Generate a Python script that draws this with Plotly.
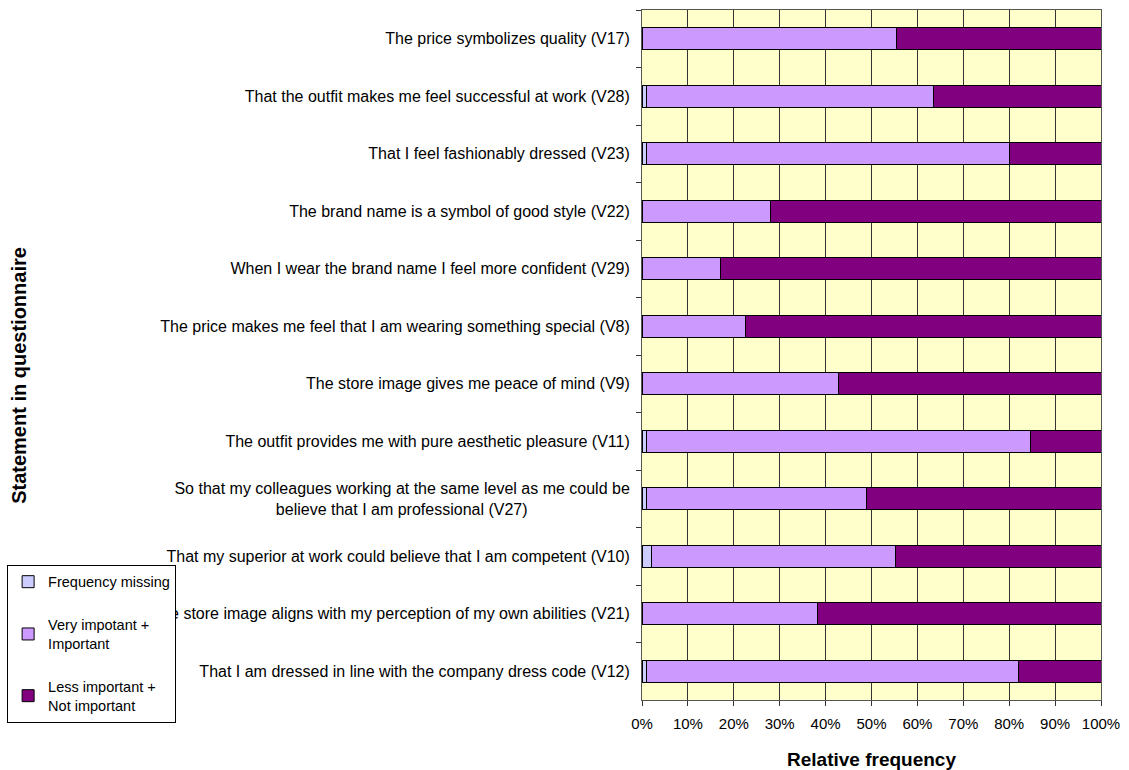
import plotly.graph_objects as go

NBSP = "\u00a0"

# Statements (top to bottom) and the share of answers in each group, in percent
statements = [
    "The price symbolizes quality (V17)",
    "That the outfit makes me feel successful at work (V28)",
    "That I feel fashionably dressed (V23)",
    "The brand name is a symbol of good style (V22)",
    "When I wear the brand name I feel more confident (V29)",
    "The price makes me feel that I am wearing something special (V8)",
    "The store image gives me peace of mind (V9)",
    "The outfit provides me with pure aesthetic pleasure (V11)",
    "So that my colleagues working at the same level as me could be<br>believe that I am professional (V27)" + NBSP * 23,
    "That my superior at work could believe that I am competent (V10)",
    "That the store image aligns with my perception of my own abilities (V21)",
    "That I am dressed in line with the company dress code (V12)",
]
freq_missing = [0.0, 0.9, 0.9, 0.0, 0.0, 0.0, 0.0, 0.9, 0.9, 2.0, 0.0, 0.9]
very_important = [55.4, 62.5, 79.1, 28.0, 17.2, 22.5, 42.8, 83.7, 48.1, 53.2, 38.2, 81.1]
less_important = [44.6, 36.6, 20.0, 72.0, 82.8, 77.5, 57.2, 15.4, 51.0, 44.8, 61.8, 18.0]

x_ticks = [0, 10, 20, 30, 40, 50, 60, 70, 80, 90, 100]
x_tick_labels = [f"{v}%" for v in x_ticks]

series = [
    ("Frequency missing", freq_missing, "#CCCCFF"),
    ("Very impotant +<br>Important", very_important, "#CC99FF"),
    ("Less important +<br>Not important", less_important, "#800080"),
]

FONT = "Liberation Sans, Arial, sans-serif"

fig = go.Figure()
for i, (name, vals, color) in enumerate(series):
    fig.add_trace(go.Bar(
        y=statements,
        x=vals,
        name=name,
        orientation="h",
        width=0.38,
        marker=dict(color=color, line=dict(color="#000000", width=1)),
        legendgroup=f"g{i}",
        hoverinfo="x+name",
    ))

fig.add_annotation(
    x=-1.357, xref="paper", y=0.47, yref="paper",
    text="<b>Statement in questionnaire</b>", textangle=-90,
    showarrow=False, xanchor="center", yanchor="middle",
    font=dict(family=FONT, size=20, color="#000000"),
)

fig.update_layout(
    width=1129,
    height=770,
    barmode="stack",
    bargap=0.62,
    paper_bgcolor="#FFFFFF",
    plot_bgcolor="#FFFFCC",
    margin=dict(l=641, r=28, t=10, b=70),
    font=dict(family=FONT, size=14, color="#000000"),
    showlegend=True,
    legend=dict(
        x=-1.378, xanchor="left",
        y=0.196, yanchor="top",
        traceorder="grouped",
        tracegroupgap=21,
        bgcolor="#FFFFFF",
        bordercolor="#000000",
        borderwidth=1,
        font=dict(family=FONT, size=14.5, color="#000000"),
        itemwidth=30,
    ),
    xaxis=dict(
        range=[0, 100],
        tickvals=x_ticks,
        ticktext=x_tick_labels,
        ticks="outside",
        ticklen=5,
        tickcolor="#333333",
        ticklabelstandoff=5,
        showgrid=True,
        gridcolor="#333333",
        gridwidth=1,
        showline=True,
        linecolor="#555555",
        linewidth=1,
        mirror=True,
        zeroline=False,
        automargin=False,
        tickfont=dict(family=FONT, size=15, color="#000000"),
        title=dict(text="<b>Relative frequency</b>", standoff=29,
                   font=dict(family=FONT, size=19, color="#000000")),
    ),
    yaxis=dict(
        type="category",
        autorange="reversed",
        showticklabels=True,
        tickfont=dict(family=FONT, size=16, color="#000000"),
        ticks="outside",
        tickson="boundaries",
        ticklen=5,
        ticklabelstandoff=8,
        tickcolor="#333333",
        showgrid=False,
        showline=True,
        linecolor="#555555",
        linewidth=1,
        mirror=True,
        zeroline=False,
        automargin=False,
    ),
)

fig.write_html("out.html")
